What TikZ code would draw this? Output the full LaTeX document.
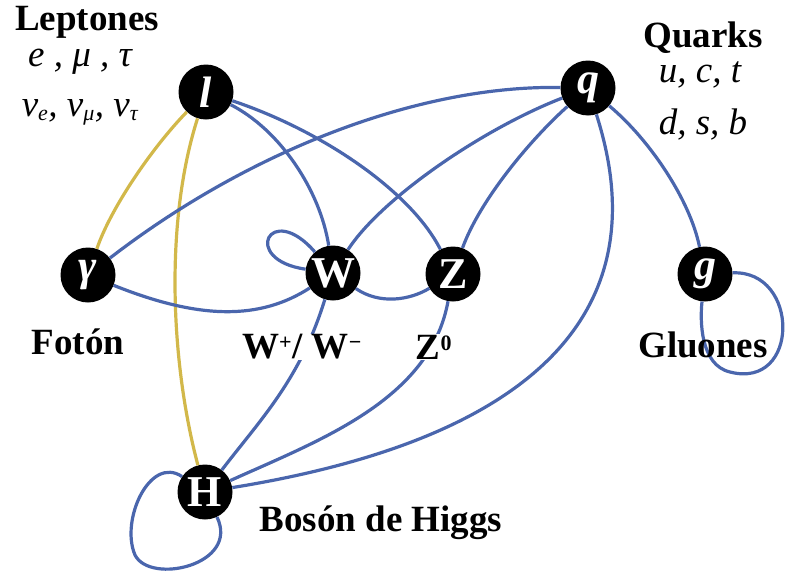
\documentclass[tikz,border=0pt]{standalone}
\usepackage{fontspec}
\setmainfont{Liberation Serif}
\usetikzlibrary{positioning}

\definecolor{azul}{HTML}{4A66AD}
\definecolor{oro}{HTML}{D2B84A}

\tikzset{
  particle/.style={circle,fill=black,minimum size=55pt,inner sep=0pt,text=white,
    font=\fontsize{44}{44}\selectfont\bfseries},
  label/.style={font=\fontsize{37}{40}\selectfont\bfseries,inner sep=1pt},
  group/.style={font=\fontsize{37}{40}\selectfont\itshape,inner sep=1pt},
  boson/.style={azul,line width=3.2pt},
  lepton/.style={oro,line width=3.2pt}
}

\begin{document}
\begin{tikzpicture}[x=1pt,y=-1pt]
  \useasboundingbox (0,0) rectangle (800,581);

  % particles
  \node[particle] (l) at (206,92) {\itshape l};
  \node[particle] (q) at (588,88) {\itshape q};
  \node[particle] (gam) at (88,275) {\itshape γ};
  \node[particle] (W) at (333,273) {W};
  \node[particle] (Z) at (453,274) {Z};
  \node[particle] (g) at (705,274) {\itshape g};
  \node[particle] (H) at (205,492) {H};

  % couplings
  \draw[lepton] (l) .. controls (150,150) and (110,210) .. (gam);
  \draw[lepton] (l) .. controls (165,220) and (170,360) .. (H);
  \draw[boson] (l) .. controls (280,130) and (320,190) .. (W);
  \draw[boson] (l) .. controls (320,130) and (410,190) .. (Z);
  \draw[boson] (q) .. controls (420,85) and (250,150) .. (gam);
  \draw[boson] (q) .. controls (480,130) and (380,200) .. (W);
  \draw[boson] (q) .. controls (530,140) and (480,200) .. (Z);
  \draw[boson] (q) .. controls (630,220) and (650,420) .. (H);
  \draw[boson] (q) .. controls (650,140) and (690,200) .. (g);
  \draw[boson] (g) .. controls (800,270) and (800,390) .. (730,372)
                   .. controls (700,365) and (700,320) .. (g);
  \draw[boson] (gam) .. controls (200,320) and (260,320) .. (W);
  \draw[boson] (W) .. controls (270,200) and (240,260) .. (W);
  \draw[boson] (W) .. controls (380,305) and (410,300) .. (Z);
  \draw[boson] (W) .. controls (300,380) and (260,420) .. (H);
  \draw[boson] (Z) .. controls (430,400) and (320,440) .. (H);
  \draw[boson] (H) .. controls (150,455) and (120,520) .. (135,555)
                   .. controls (150,585) and (240,565) .. (H);

  % texts
  \node[label] (lept) at (87,22) {Leptones};
  \node[group] (lept1) at (80,62) {e , μ , τ};
  \node[group] (lept2) at (80,112) {ν\textsubscript{\fontsize{22}{22}\selectfont e}, ν\textsubscript{\fontsize{22}{22}\selectfont μ}, ν\textsubscript{\fontsize{22}{22}\selectfont τ}};
  \node[label] (quarks) at (703,38) {Quarks};
  \node[group] (q1) at (700,75) {u, c, t};
  \node[group] (q2) at (703,125) {d, s, b};
  \node[label] (foton) at (78,342) {Fotón};
  \node[label,fill=white] (wlab) at (302,347) {W\textsuperscript{\fontsize{22}{22}\selectfont +}/ W\textsuperscript{\fontsize{22}{22}\selectfont −}};
  \node[label,fill=white] (zlab) at (434,347) {Z\textsuperscript{\fontsize{22}{22}\selectfont 0}};
  \node[label] (gluon) at (703,345) {Gluones};
  \node[label] (higgs) at (381,523) {Bosón de Higgs};
\end{tikzpicture}
\end{document}
